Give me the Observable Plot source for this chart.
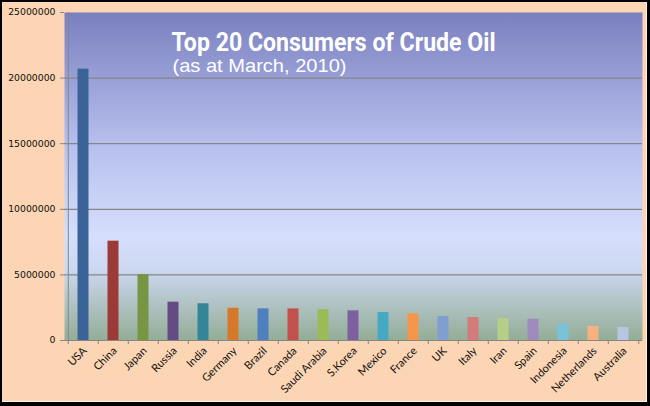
<!DOCTYPE html>
<html><head><meta charset="utf-8">
<script src="https://cdn.jsdelivr.net/npm/d3@7"></script>
<script src="https://cdn.jsdelivr.net/npm/@observablehq/plot@0.6"></script>
<style>
html,body{margin:0;padding:0;background:#000;}
#wrap{position:relative;width:650px;height:406px;overflow:hidden;}
#chart svg{display:block;}
#frame{position:absolute;left:0;top:0;width:650px;height:406px;box-sizing:border-box;border-style:solid;border-color:#000;border-width:2px 3px 4px 2px;pointer-events:none;box-shadow:inset -1px -1px 0 #fff1e4;}
</style></head>
<body><div id="wrap"><div id="chart"></div><div id="frame"></div></div>
<script>
const title = "Top 20 Consumers of Crude Oil";
const subtitle = "(as at March, 2010)";
const countries = ["USA","China","Japan","Russia","India","Germany","Brazil","Canada","Saudi Arabia","S.Korea","Mexico","France","UK","Italy","Iran","Spain","Indonesia","Netherlands","Australia"];
const consumption = [20680000,7570000,5030000,2920000,2800000,2460000,2410000,2410000,2340000,2260000,2130000,2030000,1830000,1750000,1680000,1620000,1240000,1070000,990000];
const barColors = ["#3a6497","#9b3a37","#789543","#644b84","#358598","#d5782a","#4f7fbf","#c2504c","#9bbb59","#7d60a0","#45a9c4","#f5964a","#809fd0","#d27b78","#b6cf86","#9e8bbb","#78c3d9","#f9b07e","#b7c6e2"];
const yTicks = [0,5000000,10000000,15000000,20000000,25000000];
const yDomain = [0,25000000];

const W = 650, H = 406, mL = 64, mR = 8, mT = 12, mB = 66;
const step = (W - mL - mR) / countries.length;
const data = countries.map((c, i) => ({country: c, value: consumption[i], color: barColors[i]}));

const chart = Plot.plot({
  width: W, height: H, marginLeft: mL, marginRight: mR, marginTop: mT, marginBottom: mB,
  style: {background: "#fcd5b4", fontFamily: "DejaVu Sans", overflow: "visible"},
  x: {domain: countries, padding: 0, axis: null},
  y: {domain: yDomain, axis: null},
  marks: [
    Plot.frame({fill: "url(#plotBg)", stroke: "none"}),
    Plot.gridY(yTicks.slice(1, -1), {stroke: "#868686", strokeOpacity: 1, strokeWidth: 1.2}),
    Plot.barY(data, {x: "country", y: "value", fill: "color", insetLeft: 9.5, insetRight: 9.5}),
    Plot.ruleY([0], {stroke: "#868686"}),
    Plot.ruleX([countries[0]], {y1: yDomain[0], y2: yDomain[1], dx: -step / 2, stroke: "#868686"}),
    Plot.ruleX(countries, {x: d => d, dx: -step / 2, insetTop: H - mT - mB, insetBottom: -4, stroke: "#868686"}),
    Plot.ruleX([countries[countries.length - 1]], {x: d => d, dx: step / 2, insetTop: H - mT - mB, insetBottom: -4, stroke: "#868686"}),
    Plot.axisY({ticks: yTicks, tickSize: 4, tickPadding: 5, tickFormat: d3.format("d"), stroke: "#868686", fill: "#111", fontSize: 9.3, fontFamily: "DejaVu Sans", label: null}),
    Plot.text(countries, {x: d => d, text: d => d, frameAnchor: "bottom", rotate: -45, textAnchor: "end", lineAnchor: "bottom", dx: 4, dy: 11, fontSize: 11, fontFamily: "Lato", fill: "#111"}),
    Plot.text([title], {text: d => d, frameAnchor: "top-left", textAnchor: "start", lineAnchor: "bottom", dx: 107, dy: 38, fill: "white", fontSize: 26, fontWeight: "bold", fontFamily: "Roboto"}),
    Plot.text([subtitle], {text: d => d, frameAnchor: "top-left", textAnchor: "start", lineAnchor: "bottom", dx: 108, dy: 59.5, fill: "white", fontSize: 19, fontFamily: "Liberation Sans"})
  ]
});

const svg = d3.select(chart);
const grad = svg.insert("defs", ":first-child").append("linearGradient")
  .attr("id", "plotBg").attr("x1", 0).attr("y1", 0).attr("x2", 0).attr("y2", 1);
[[0, "#7a80bf"], [0.4, "#b6bfed"], [0.68, "#d5defc"], [0.78, "#cdd8f1"], [1, "#93ad96"]]
  .forEach(([o, c]) => grad.append("stop").attr("offset", o).attr("stop-color", c));
svg.selectAll("text").filter(function() { return this.textContent === title; })
  .attr("textLength", 324).attr("lengthAdjust", "spacingAndGlyphs");
svg.selectAll("text").filter(function() { return this.textContent === subtitle; })
  .attr("textLength", 174).attr("lengthAdjust", "spacingAndGlyphs");

document.getElementById("chart").appendChild(chart);
</script>
</body></html>
